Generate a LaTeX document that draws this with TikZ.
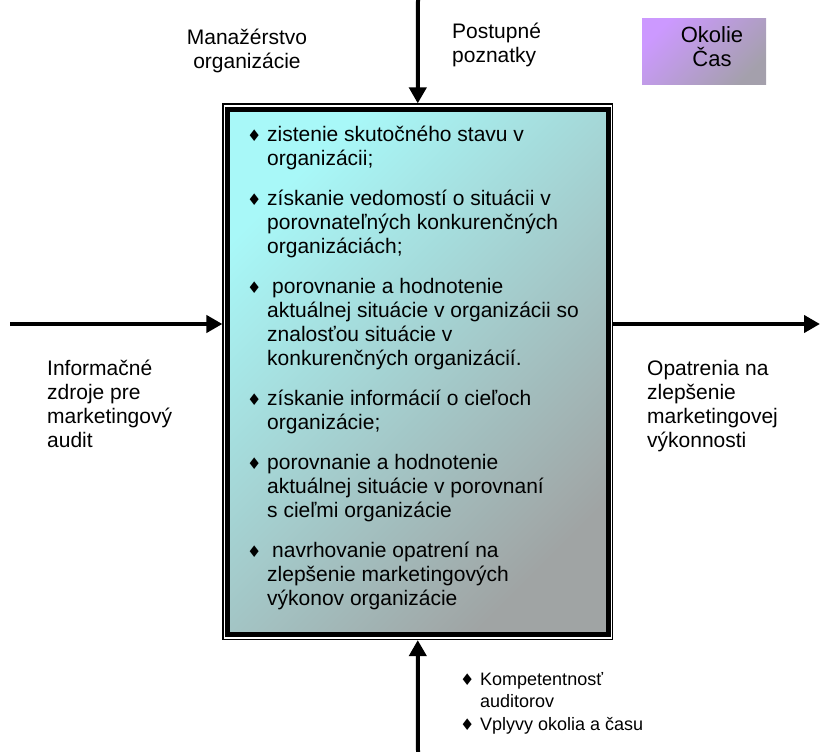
\documentclass[tikz,border=0pt]{standalone}
\usepackage{fontspec}
\setmainfont{Liberation Sans}
\newfontfamily\symb{DejaVu Sans}
\usetikzlibrary{arrows.meta}

\definecolor{azur}{HTML}{A8F8F8}
\definecolor{siva}{HTML}{A0A4A4}
\definecolor{fialova}{HTML}{CC99FF}
\definecolor{sivafial}{HTML}{A4A0AC}

% bullet and one list item
\newcommand{\dia}{{\symb\fontsize{16}{16}\selectfont ♦}}
\newcommand{\bod}[1]{\noindent\llap{\makebox[20pt][l]{\dia}}#1\par}

\tikzset{
  sipka/.style={line width=4pt,-{Triangle[length=16pt,width=17pt]}},
  popis/.style={inner sep=0pt,anchor=base west},
}

\begin{document}
\begin{tikzpicture}[x=1pt,y=-1pt]
\useasboundingbox (0,0) rectangle (820,752);

% the process box
\node[draw,line width=1.2pt,minimum width=389.5pt,minimum height=535.5pt,inner sep=0pt] (proces) at (417.75,371.75) {};
\draw[line width=5pt,top color=azur,bottom color=siva,shading angle=45]
  ([shift={(5.5,6)}]proces.north west) rectangle ([shift={(-4.5,-5.5)}]proces.south east);

\node[popis] (obsah) at (245,142) {\parbox[t]{355pt}{\raggedright\leftskip=22pt
  \fontsize{21}{24}\selectfont
  \bod{zistenie skutočného stavu v\\organizácii;}
  \vspace{16pt}
  \bod{získanie vedomostí o situácii v\\porovnateľných konkurenčných\\organizáciách;}
  \vspace{16pt}
  \bod{\hspace{5pt}porovnanie a hodnotenie\\aktuálnej situácie v organizácii so\\znalosťou situácie v\\konkurenčných organizácií.}
  \vspace{16pt}
  \bod{získanie informácií o cieľoch\\organizácie;}
  \vspace{16pt}
  \bod{porovnanie a hodnotenie\\aktuálnej situácie v porovnaní\\s cieľmi organizácie}
  \vspace{16pt}
  \bod{\hspace{5pt}navrhovanie opatrení na\\zlepšenie marketingových\\výkonov organizácie}}};

% box in the corner
\draw[top color=fialova,bottom color=sivafial,shading angle=45,draw=none] (642,19) rectangle (766,85);
\node[inner sep=0pt,anchor=base] (okolie) at (712,43) {\parbox[t]{100pt}{\centering
  \fontsize{22}{24}\selectfont Okolie\\Čas}};

% labels round the box
\node[inner sep=0pt,anchor=base] (manazerstvo) at (247,45) {\parbox[t]{150pt}{\centering
  \fontsize{21}{24}\selectfont Manažérstvo\\organizácie}};
\node[popis] (poznatky) at (452,39) {\parbox[t]{150pt}{\raggedright
  \fontsize{21}{24}\selectfont Postupné\\poznatky}};
\node[popis] (zdroje) at (47,375) {\parbox[t]{170pt}{\raggedright
  \fontsize{21}{24}\selectfont Informačné\\zdroje pre\\marketingový\\audit}};
\node[popis] (opatrenia) at (647,375) {\parbox[t]{170pt}{\raggedright
  \fontsize{21}{24}\selectfont Opatrenia na\\zlepšenie\\marketingovej\\výkonnosti}};
\node[popis] (auditori) at (456,685) {\parbox[t]{240pt}{\raggedright\leftskip=24pt
  \fontsize{18}{22.5}\selectfont
  \bod{Kompetentnosť\\auditorov}
  \bod{Vplyvy okolia a času}}};

% arrows in and out
\coordinate (hore) at (418,0);
\coordinate (dole) at (418,752);
\coordinate (vlavo) at (10,324);
\coordinate (vpravo) at (820,324);
\draw[sipka] (hore) -- (proces.north);
\draw[sipka] (dole) -- (proces.south);
\draw[sipka] (vlavo) -- (proces.west |- vlavo);
\draw[sipka] (proces.east |- vpravo) -- (vpravo);
\end{tikzpicture}
\end{document}
